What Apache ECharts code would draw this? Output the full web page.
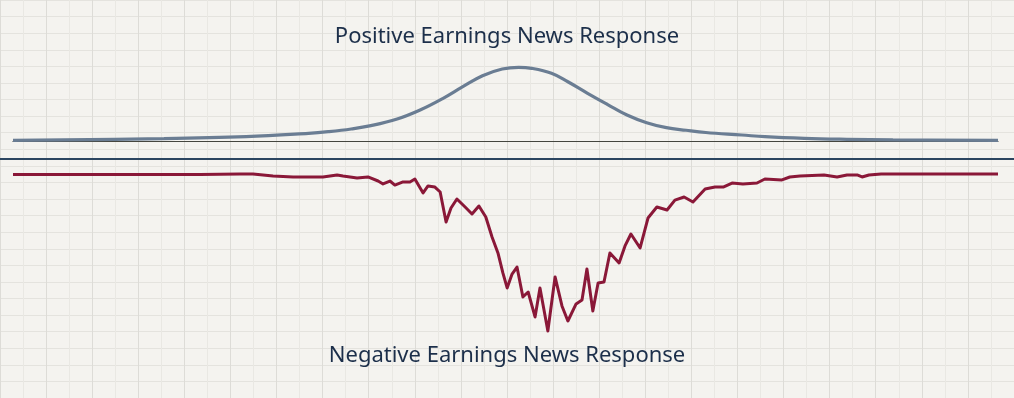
<!DOCTYPE html>
<html>
<head>
<meta charset="utf-8">
<script src="https://cdn.jsdelivr.net/npm/echarts@6/dist/echarts.min.js"></script>
<style>
html,body{margin:0;padding:0;background:#f4f3ef;}
#chart{width:1014px;height:398px;}
</style>
</head>
<body>
<div id="chart"></div>
<script>
// ---- data (event time vs. response) ----
const titles = ["Positive Earnings News Response", "Negative Earnings News Response"];

// positive response: event time and response value
const posT = [-150, -104, -79, -60, -54, -47, -41, -33, -26, -19, -13, -7, -1, 4, 8, 14, 19, 25, 31, 37, 43, 49, 55, 61, 72, 79, 91, 104, 118, 150];
const posV = [0.09, 0.31, 0.58, 1.04, 1.26, 1.62, 2.07, 2.97, 4.19, 5.77, 7.34, 8.82, 9.73, 9.96, 9.82, 9.15, 8.01, 6.45, 4.96, 3.51, 2.47, 1.80, 1.45, 1.15, 0.81, 0.58, 0.36, 0.23, 0.14, 0.09];

// negative response: event time and response value
const negT = [-150.0, -123.5, -93.0, -80.9, -76.9, -70.8, -64.7, -59.5, -55.6, -51.3, -49.5, -45.2, -41.9, -38.8, -37.3, -35.2, -33.7, -31.2, -29.1, -27.6, -25.1, -23.6, -21.5, -19.9, -18.1, -16.6, -14.8, -12.3, -10.2, -8.1, -6.0, -4.1, -2.3, -0.8, 0.5, 2.0, 3.5, 5.3, 6.9, 9.0, 10.5, 12.9, 15.1, 17.2, 19.0, 21.5, 23.3, 24.8, 26.6, 28.2, 30.0, 31.8, 34.6, 36.4, 38.2, 41.0, 43.4, 46.1, 49.2, 51.6, 54.4, 57.1, 60.8, 63.8, 66.3, 69.0, 72.3, 76.6, 79.0, 84.2, 86.6, 89.7, 97.0, 101.0, 104.0, 107.1, 108.6, 110.7, 114.4, 150.0];
const negV = [0, 0, 0, 0.03, 0.03, -0.10, -0.16, -0.16, -0.16, -0.03, -0.10, -0.23, -0.16, -0.42, -0.61, -0.42, -0.68, -0.48, -0.48, -0.29, -1.19, -0.74, -0.81, -1.13, -3.06, -2.16, -1.58, -2.10, -2.55, -2.03, -2.74, -4.03, -5.06, -6.35, -7.32, -6.42, -5.97, -7.90, -7.58, -9.19, -7.32, -10.10, -6.61, -8.48, -9.45, -8.35, -8.10, -6.10, -8.81, -7.00, -6.94, -5.06, -5.71, -4.61, -3.84, -4.74, -2.81, -2.10, -2.29, -1.65, -1.45, -1.77, -0.94, -0.81, -0.81, -0.55, -0.61, -0.55, -0.29, -0.35, -0.16, -0.10, -0.03, -0.16, -0.03, -0.03, -0.16, -0.03, 0.03, 0.03];

const pos = posT.map((t, i) => [t, posV[i]]);
const neg = negT.map((t, i) => [t, negV[i]]);

const chart = echarts.init(document.getElementById('chart'), null, {renderer: 'canvas'});
const hidden = {show: false};
const plainAxis = (extra) => Object.assign({
  type: 'value', axisLabel: hidden, axisTick: hidden, splitLine: hidden, axisLine: hidden
}, extra);
const titleStyle = {fontFamily: 'Noto Sans', fontSize: 22, fontWeight: 'normal', color: '#1c2f4a'};

chart.setOption({
  backgroundColor: '#f4f3ef',
  animation: false,
  title: [
    {text: titles[0], left: 'center', top: 21, textStyle: titleStyle},
    {text: titles[1], left: 'center', top: 340, textStyle: titleStyle}
  ],
  grid: [
    {left: -22, width: 1056, top: -12.5, height: 420},   // paper grid
    {left: 0, right: 0, top: 0, height: 159},             // divider line
    {left: 13, right: 16, top: 52.2, height: 88.8},        // positive panel
    {left: 13, right: 16, top: 159, height: 201.5}         // negative panel
  ],
  xAxis: [
    plainAxis({gridIndex: 0, min: -528, max: 528, interval: 48,
      splitLine: {show: true, lineStyle: {color: '#dddcd7', width: 1}},
      minorTick: {show: false, splitNumber: 2},
      minorSplitLine: {show: true, lineStyle: {color: '#e9e8e3', width: 1}}}),
    plainAxis({gridIndex: 1, min: 0, max: 1, position: 'bottom',
      axisLine: {show: true, lineStyle: {color: '#2b4560', width: 2}}}),
    plainAxis({gridIndex: 2, min: -150, max: 150,
      axisLine: {show: true, onZero: true, lineStyle: {color: '#45463f', width: 1.2}}}),
    plainAxis({gridIndex: 3, min: -150, max: 150})
  ],
  yAxis: [
    plainAxis({gridIndex: 0, inverse: true, min: 0, max: 420, interval: 17.5,
      splitLine: {show: true, lineStyle: {color: '#e4e3de', width: 1}}}),
    plainAxis({gridIndex: 1, min: 0, max: 1}),
    plainAxis({gridIndex: 2, min: 0, max: 12}),
    plainAxis({gridIndex: 3, min: -12, max: 1})
  ],
  series: [
    {type: 'line', xAxisIndex: 0, yAxisIndex: 0, data: [], silent: true},
    {type: 'line', xAxisIndex: 2, yAxisIndex: 2, data: pos, smooth: 0.4, showSymbol: false,
     lineStyle: {color: '#6a7d93', width: 3.2}},
    {type: 'line', xAxisIndex: 3, yAxisIndex: 3, data: neg, smooth: false, showSymbol: false,
     lineStyle: {color: '#8a1838', width: 3, join: 'round'}}
  ]
});
</script>
</body>
</html>
